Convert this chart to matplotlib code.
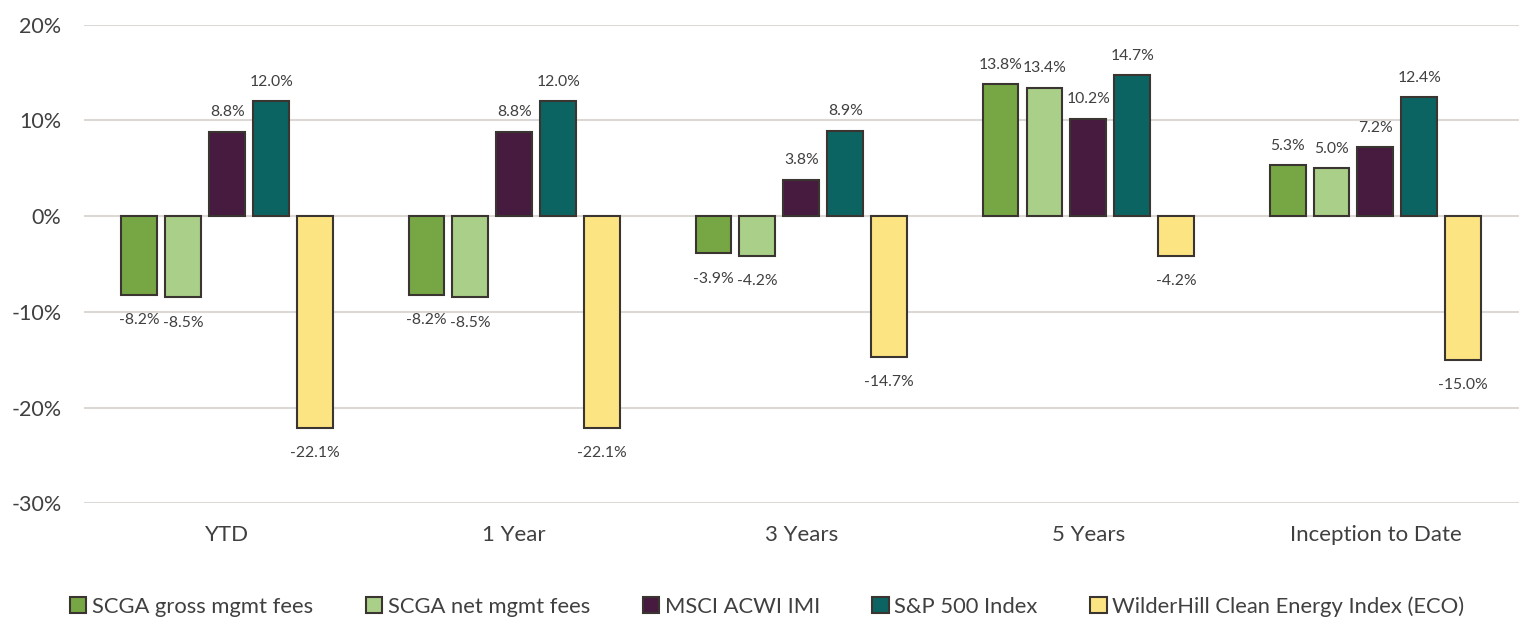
import matplotlib
matplotlib.use("Agg")
import matplotlib.pyplot as plt
import numpy as np

# ── DATA ──────────────────────────────────────────────────────────────────────
categories = ["YTD", "1 Year", "3 Years", "5 Years", "Inception to Date"]
series_names = [
    "SCGA gross mgmt fees",
    "SCGA net mgmt fees",
    "MSCI ACWI IMI",
    "S&P 500 Index",
    "WilderHill Clean Energy Index (ECO)",
]
scga_gross = [-8.2, -8.2, -3.9, 13.8, 5.3]
scga_net = [-8.5, -8.5, -4.2, 13.4, 5.0]
msci_acwi = [8.8, 8.8, 3.8, 10.2, 7.2]
sp500 = [12.0, 12.0, 8.9, 14.7, 12.4]
eco = [-22.1, -22.1, -14.7, -4.2, -15.0]
y_ticks = [-30, -20, -10, 0, 10, 20]

# ── STYLE ─────────────────────────────────────────────────────────────────────
colors = ["#76A744", "#A9CF88", "#461B3F", "#0B6461", "#FDE482"]
edge = "#3b3532"
text_color = "#404040"
grid_color = "#dcd8d5"
plt.rcParams["font.family"] = ["Lato", "DejaVu Sans"]

fig = plt.figure(figsize=(15.22, 6.19), dpi=100)
ax = fig.add_axes([0.055, 0.187, 0.943, 0.773])

all_series = [scga_gross, scga_net, msci_acwi, sp500, eco]
x = np.arange(len(categories))
step = 0.153
width = 0.125

for i, (name, vals, col) in enumerate(zip(series_names, all_series, colors)):
    pos = x + (i - 2) * step
    ax.bar(pos, vals, width=width, color=col, edgecolor=edge,
           linewidth=1.5, label=name, zorder=3)
    for xp, v in zip(pos, vals):
        ax.annotate(f"{v:.1f}%", (xp, v),
                    xytext=(0, 9 if v >= 0 else -13),
                    textcoords="offset points", ha="center",
                    va="bottom" if v >= 0 else "top",
                    fontsize=11.3, color=text_color)

ax.set_xlim(-0.5, len(categories) - 0.5)
ax.set_ylim(-30, 20)
ax.set_yticks(y_ticks)
ax.set_yticklabels([f"{t}%" for t in y_ticks])
ax.set_xticks(x)
ax.set_xticklabels(categories)
ax.tick_params(axis="both", length=0, labelsize=16, colors=text_color)
ax.tick_params(axis="x", pad=16)
ax.tick_params(axis="y", labelsize=15.5, pad=16)
ax.grid(axis="y", color=grid_color, linewidth=1.5, zorder=0)
for s in ax.spines.values():
    s.set_visible(False)

fig.legend(loc="lower left", bbox_to_anchor=(0.033, -0.028), ncol=5,
           frameon=False, fontsize=15.8, handlelength=0.75, handleheight=0.75,
           handletextpad=0.25, columnspacing=2.4, labelcolor=text_color)

fig.savefig("out.png", dpi=100)
